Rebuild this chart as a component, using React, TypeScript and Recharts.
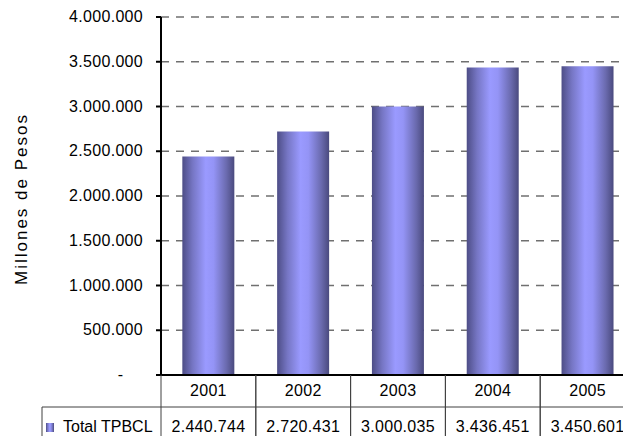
import { BarChart, Bar, XAxis, YAxis, CartesianGrid, Customized } from 'recharts';

const years = ['2001', '2002', '2003', '2004', '2005'];
const totals = [2440744, 2720431, 3000035, 3436451, 3450601];
const yTicks = [0, 500000, 1000000, 1500000, 2000000, 2500000, 3000000, 3500000, 4000000];
const seriesName = 'Total TPBCL';
const axisTitle = 'Millones de Pesos';

const data = years.map((year, i) => ({ year, total: totals[i] }));

// layout
const FONT = "'Liberation Sans', Arial, sans-serif";
const PLOT_LEFT = 161;
const PLOT_RIGHT = 635;
const AXIS_Y = 375;
const ROW_Y = 407;
const CHART_H = 436;
const CELL_W = (PLOT_RIGHT - PLOT_LEFT) / years.length;
const LINE = '#404040';

const fmt = (n: number) => n.toString().replace(/\B(?=(\d{3})+(?!\d))/g, '.');

function YTick(props: any) {
  const { x, y, payload } = props;
  if (payload.value === 0) {
    return (
      <text x={x - 20} y={y} dy={5} textAnchor="end" fontSize={16} fontFamily={FONT} fill="#000">
        -
      </text>
    );
  }
  return (
    <text x={x} y={y} dy={5} textAnchor="end" fontSize={16} letterSpacing={0.3} fontFamily={FONT} fill="#000">
      {fmt(payload.value)}
    </text>
  );
}

// each x tick draws its own column of the data table
function TableTick(props: any) {
  const { x, payload } = props;
  const i = payload.index;
  const left = x - CELL_W / 2;
  const right = x + CELL_W / 2;
  return (
    <g>
      <line x1={left} y1={AXIS_Y} x2={left} y2={CHART_H} stroke={LINE} strokeWidth={1} />
      <line x1={right} y1={AXIS_Y} x2={right} y2={CHART_H} stroke={LINE} strokeWidth={1} />
      <line x1={left} y1={ROW_Y} x2={right} y2={ROW_Y} stroke={LINE} strokeWidth={1} />
      <text x={x} y={396} textAnchor="middle" fontSize={16} letterSpacing={0.3} fontFamily={FONT} fill="#000">
        {payload.value}
      </text>
      <text x={x} y={432} textAnchor="middle" fontSize={16} letterSpacing={0.3} fontFamily={FONT} fill="#000">
        {fmt(totals[i])}
      </text>
    </g>
  );
}

function Extras() {
  return (
    <g>
      <text
        x={27}
        y={199}
        transform="rotate(-90 27 199)"
        textAnchor="middle"
        fontSize={17}
        letterSpacing={2}
        fontFamily={FONT}
        fill="#000"
      >
        {axisTitle}
      </text>
      <line x1={42} y1={ROW_Y} x2={PLOT_LEFT} y2={ROW_Y} stroke={LINE} strokeWidth={1} />
      <line x1={42} y1={ROW_Y} x2={42} y2={CHART_H} stroke={LINE} strokeWidth={1} />
      <rect x={46} y={423} width={8} height={9} fill="url(#barGrad)" />
      <text x={63} y={432} fontSize={16} fontFamily={FONT} fill="#000">
        {seriesName}
      </text>
    </g>
  );
}

export default function App() {
  return (
    <div style={{ position: 'absolute', left: 0, top: 0, width: 623, height: 436, overflow: 'hidden', background: '#fff' }}>
      <svg width={0} height={0} style={{ position: 'absolute' }}>
        <defs>
          <linearGradient id="barGrad" x1="0" y1="0" x2="1" y2="0">
            <stop offset="0%" stopColor="#4d4d86" />
            <stop offset="20%" stopColor="#7676c4" />
            <stop offset="45%" stopColor="#9a9aff" />
            <stop offset="60%" stopColor="#9494f6" />
            <stop offset="85%" stopColor="#6a6aae" />
            <stop offset="100%" stopColor="#4a4a7e" />
          </linearGradient>
        </defs>
      </svg>
      <BarChart
        width={650}
        height={CHART_H}
        data={data}
        margin={{ top: 17, right: 650 - PLOT_RIGHT, left: 0, bottom: 0 }}
        barCategoryGap="22.5%"
      >
        <CartesianGrid vertical={false} stroke="#707070" strokeWidth={1.5} strokeDasharray="8 7" />
        <XAxis
          dataKey="year"
          height={CHART_H - AXIS_Y}
          axisLine={{ stroke: '#000', strokeWidth: 2 }}
          tickLine={false}
          tickSize={0}
          interval={0}
          tick={<TableTick />}
        />
        <YAxis
          width={PLOT_LEFT}
          domain={[0, 4000000]}
          ticks={yTicks}
          interval={0}
          axisLine={{ stroke: '#000', strokeWidth: 2 }}
          tickLine={{ stroke: '#000', strokeWidth: 2 }}
          tickSize={5}
          tickMargin={13}
          tick={<YTick />}
        />
        <Bar dataKey="total" name={seriesName} fill="url(#barGrad)" isAnimationActive={false} />
        <Customized component={Extras} />
      </BarChart>
    </div>
  );
}
